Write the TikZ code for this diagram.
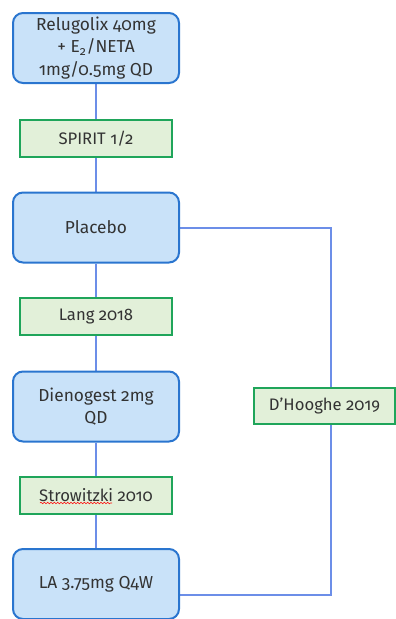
\documentclass[tikz,border=0pt]{standalone}
\usepackage{fontspec}
\setmainfont[Numbers=OldStyle]{Fira Sans}
\usetikzlibrary{backgrounds,decorations.pathmorphing}
\definecolor{bluefill}{HTML}{C9E2F9}
\definecolor{blueline}{HTML}{2A75CF}
\definecolor{greenfill}{HTML}{E2F0D9}
\definecolor{greenline}{HTML}{1FA55A}
\definecolor{conn}{HTML}{6C8EE8}
\definecolor{txt}{HTML}{333333}
\tikzset{
  treat/.style={draw=blueline, fill=bluefill, line width=1.5pt, rounded corners=7.5pt,
    minimum width=124.5pt, minimum height=52.5pt, align=center, font=\fontsize{13}{17}\selectfont, text=txt, inner sep=0pt},
  trial/.style={draw=greenline, fill=greenfill, line width=1.5pt,
    minimum width=114pt, minimum height=27.75pt, align=center, font=\fontsize{12.5}{14}\selectfont, text=txt, inner sep=0pt},
  link/.style={draw=conn, line width=0.8pt},
  spell/.style={draw=red, line width=0.4pt, decorate, decoration={snake, amplitude=0.6pt, segment length=2.5pt}}
}
\begin{document}
\begin{tikzpicture}[x=0.75pt,y=-0.75pt]
\useasboundingbox (0,0) rectangle (396,619);
\node[treat] (rel) at (96,48) {Relugolix 40mg\\+ E\textsubscript{2}/NETA\\1mg/0.5mg QD};
\node[trial] (spirit) at (96,138.5) {SPIRIT 1/2};
\node[treat] (pla) at (96,227.5) {Placebo};
\node[trial] (lang) at (96,316.5) {Lang 2018};
\node[treat] (dien) at (96,406.5) {Dienogest 2mg\\QD};
\node[trial] (strow) at (96,495) {Strowitzki 2010};
\node[treat] (la) at (96,584) {LA 3.75mg Q4W};
\node[trial, minimum width=105.75pt, minimum height=27pt] (dh) at (324.5,406) {D’Hooghe 2019};
\coordinate (c1) at (331,228);
\coordinate (c2) at (331,595);
\begin{pgfonlayer}{background}
\draw[link] (rel) -- (spirit) -- (pla) -- (lang) -- (dien) -- (strow) -- (la);
\draw[link] (pla.east |- c1) -- (c1) -- (c2) -- (c2 -| la.east);
\end{pgfonlayer}
\coordinate (w1) at (40,503);
\coordinate (w2) at (112,503);
\path[spell] (w1) -- (w2);
\end{tikzpicture}
\end{document}
